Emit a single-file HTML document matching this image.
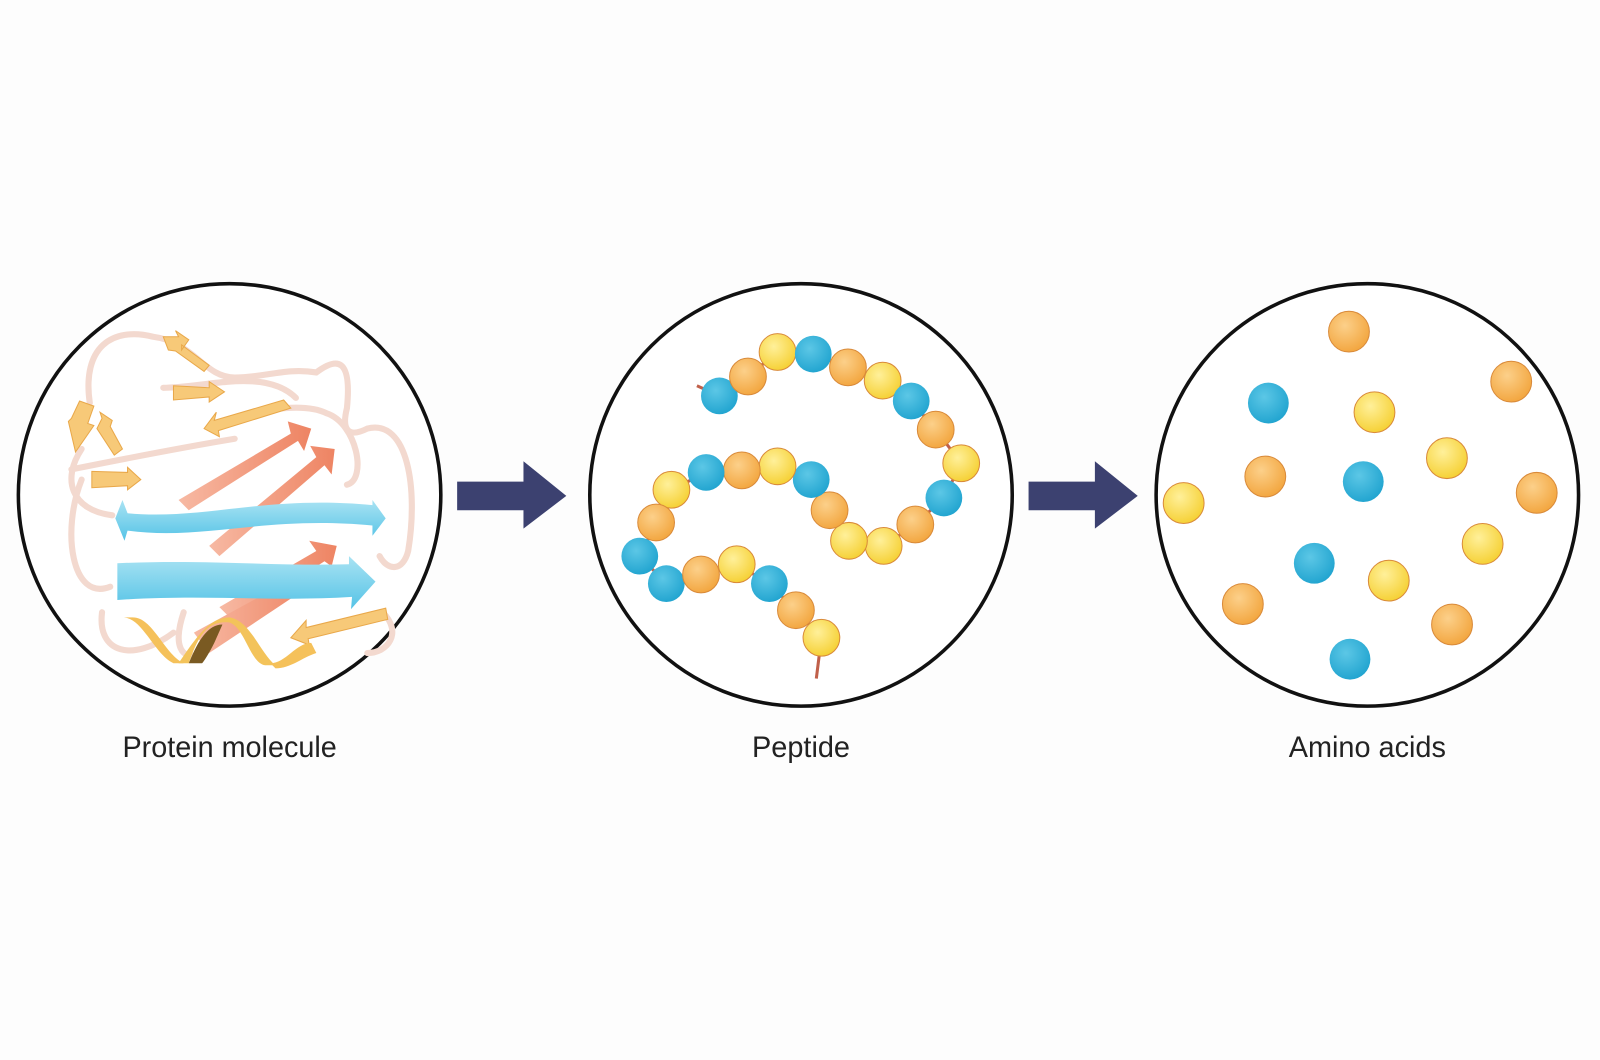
<!DOCTYPE html>
<html><head><meta charset="utf-8"><style>
html,body{margin:0;padding:0;background:#fdfdfd;}
svg{display:block}
</style></head><body>
<svg width="1600" height="1060" viewBox="0 0 1600 1060" xmlns="http://www.w3.org/2000/svg">
<defs>
<radialGradient id="gb" cx="0.4" cy="0.35" r="0.7"><stop offset="0" stop-color="#5cc7e6"/><stop offset="1" stop-color="#1fa3cf"/></radialGradient>
<radialGradient id="go" cx="0.4" cy="0.35" r="0.7"><stop offset="0" stop-color="#fcd08a"/><stop offset="1" stop-color="#f2a43c"/></radialGradient>
<radialGradient id="gy" cx="0.4" cy="0.35" r="0.7"><stop offset="0" stop-color="#fff09a"/><stop offset="1" stop-color="#f5cf30"/></radialGradient>
<linearGradient id="bl" x1="0" y1="0" x2="0" y2="1"><stop offset="0" stop-color="#a9e3f3"/><stop offset="1" stop-color="#55c3e6"/></linearGradient>
<linearGradient id="sa" x1="0" y1="0" x2="1" y2="0"><stop offset="0" stop-color="#f7b9a3"/><stop offset="1" stop-color="#ee8463"/></linearGradient>
</defs>
<rect width="1600" height="1060" fill="#fdfdfd"/>
<g transform="scale(1.0204)">
<!-- circles -->
<circle cx="225" cy="485" r="207" fill="#fff" stroke="#111" stroke-width="3.5"/>
<circle cx="785" cy="485" r="207" fill="#fff" stroke="#111" stroke-width="3.5"/>
<circle cx="1340" cy="485" r="207" fill="#fff" stroke="#111" stroke-width="3.5"/>

<!-- arrows -->
<polygon points="448,472 513,472 513,452 555,486 513,518 513,500 448,500" fill="#3c4170"/>
<polygon points="1008,472 1073,472 1073,452 1115,486 1073,518 1073,500 1008,500" fill="#3c4170"/>

<!-- protein -->
<g fill="none" stroke="#f3d9cf" stroke-width="6" stroke-linecap="round">
<path d="M88,395 C80,340 110,320 150,330 C190,335 200,370 230,370 C260,370 280,360 310,365 C330,350 345,350 340,400 C335,420 340,430 360,420 C400,410 410,480 400,540 C395,560 380,560 372,545"/>
<path d="M80,440 C60,470 70,500 110,505"/>
<path d="M80,470 C60,520 70,590 108,575"/>
<path d="M100,600 C95,640 130,650 170,620"/>
<path d="M230,410 C260,400 300,395 320,405 C350,415 360,470 340,475"/>
<path d="M70,460 C120,450 170,440 230,430"/>
<path d="M290,390 C260,360 200,380 160,380"/>
<path d="M375,600 C395,620 380,640 360,640"/>
<path d="M180,600 C170,630 175,650 200,640"/>
</g>
<g fill="url(#sa)">
<polygon points="175,490 285,425 282,413 305,420 298,442 292,432 185,500"/>
<polygon points="205,535 310,448 304,437 328,440 325,465 318,456 215,545"/>
<polygon points="215,595 310,540 303,530 330,535 325,555 318,550 228,608"/>
<polygon points="190,620 300,560 310,570 205,640"/>
</g>
<path d="M125,503 L120,490 L113,508 L122,530 L125,520 C200,530 260,505 365,515 L365,525 L378,508 L365,490 L365,495 C260,485 200,510 125,503Z" fill="url(#bl)"/>
<path d="M115,552 L115,588 C200,582 270,590 345,585 L344,597 L368,570 L342,545 L342,553 C270,555 200,548 115,552Z" fill="url(#bl)"/>
<g fill="#f7c978" stroke="#e9a84a" stroke-width="1">
<polygon points="160,330 175,330 172,324 185,333 178,343 178,338 205,358 200,364 172,344 165,343"/>
<polygon points="170,378 205,380 205,374 220,384 205,394 205,389 170,392"/>
<polygon points="70,410 78,393 92,398 86,415 92,417 74,443 67,413"/>
<polygon points="95,420 100,410 98,404 110,412 108,418 120,440 112,446"/>
<polygon points="90,462 125,463 125,458 138,470 125,480 125,476 90,478"/>
<polygon points="278,392 210,412 212,404 200,420 215,428 214,422 285,400"/>
<polygon points="378,596 300,615 300,608 285,625 303,632 302,626 380,607"/>
</g>
<path d="M120,605 C140,605 150,640 170,650 L180,650 C160,640 150,605 130,605Z" fill="#f5c15a"/>
<path d="M185,650 C195,620 205,608 225,610 C240,615 245,650 260,652 L270,652 C255,640 245,608 225,605 C205,605 192,625 175,650Z" fill="#f3c35a"/>
<path d="M185,650 C195,625 205,612 218,612 L210,630 C205,640 200,648 198,650Z" fill="#7a5a22"/>
<path d="M265,650 C280,650 290,630 305,630 L310,640 C295,645 285,655 270,655Z" fill="#f5c15a"/>

<!-- peptide -->
<path d="M683,378 L705,388 733,369 762,345 797,347 831,360 865,373 893,393 917,421 942,454 925,488 897,514 866,535 832,530 813,500 795,470 762,457 727,461 692,463 658,480 643,512 627,545 653,572 687,563 722,553 754,572 780,598 805,625 800,665" fill="none" stroke="#c0604a" stroke-width="3"/>
<g stroke="#d98a3a" stroke-width="1">
<circle cx="705" cy="388" r="18" fill="url(#gb)" stroke="none"/>
<circle cx="733" cy="369" r="18" fill="url(#go)"/>
<circle cx="762" cy="345" r="18" fill="url(#gy)"/>
<circle cx="797" cy="347" r="18" fill="url(#gb)" stroke="none"/>
<circle cx="831" cy="360" r="18" fill="url(#go)"/>
<circle cx="865" cy="373" r="18" fill="url(#gy)"/>
<circle cx="893" cy="393" r="18" fill="url(#gb)" stroke="none"/>
<circle cx="917" cy="421" r="18" fill="url(#go)"/>
<circle cx="942" cy="454" r="18" fill="url(#gy)"/>
<circle cx="925" cy="488" r="18" fill="url(#gb)" stroke="none"/>
<circle cx="897" cy="514" r="18" fill="url(#go)"/>
<circle cx="866" cy="535" r="18" fill="url(#gy)"/>
<circle cx="832" cy="530" r="18" fill="url(#gy)"/>
<circle cx="813" cy="500" r="18" fill="url(#go)"/>
<circle cx="795" cy="470" r="18" fill="url(#gb)" stroke="none"/>
<circle cx="762" cy="457" r="18" fill="url(#gy)"/>
<circle cx="727" cy="461" r="18" fill="url(#go)"/>
<circle cx="692" cy="463" r="18" fill="url(#gb)" stroke="none"/>
<circle cx="658" cy="480" r="18" fill="url(#gy)"/>
<circle cx="643" cy="512" r="18" fill="url(#go)"/>
<circle cx="627" cy="545" r="18" fill="url(#gb)" stroke="none"/>
<circle cx="653" cy="572" r="18" fill="url(#gb)" stroke="none"/>
<circle cx="687" cy="563" r="18" fill="url(#go)"/>
<circle cx="722" cy="553" r="18" fill="url(#gy)"/>
<circle cx="754" cy="572" r="18" fill="url(#gb)" stroke="none"/>
<circle cx="780" cy="598" r="18" fill="url(#go)"/>
<circle cx="805" cy="625" r="18" fill="url(#gy)"/>
</g>

<!-- amino acids -->
<g stroke="#d98a3a" stroke-width="1">
<circle cx="1322" cy="325" r="20" fill="url(#go)"/>
<circle cx="1481" cy="374" r="20" fill="url(#go)"/>
<circle cx="1243" cy="395" r="20" fill="url(#gb)" stroke="none"/>
<circle cx="1347" cy="404" r="20" fill="url(#gy)"/>
<circle cx="1418" cy="449" r="20" fill="url(#gy)"/>
<circle cx="1240" cy="467" r="20" fill="url(#go)"/>
<circle cx="1336" cy="472" r="20" fill="url(#gb)" stroke="none"/>
<circle cx="1160" cy="493" r="20" fill="url(#gy)"/>
<circle cx="1506" cy="483" r="20" fill="url(#go)"/>
<circle cx="1453" cy="533" r="20" fill="url(#gy)"/>
<circle cx="1288" cy="552" r="20" fill="url(#gb)" stroke="none"/>
<circle cx="1361" cy="569" r="20" fill="url(#gy)"/>
<circle cx="1218" cy="592" r="20" fill="url(#go)"/>
<circle cx="1423" cy="612" r="20" fill="url(#go)"/>
<circle cx="1323" cy="646" r="20" fill="url(#gb)" stroke="none"/>
</g>

<!-- labels -->
<g font-family="Liberation Sans, sans-serif" font-size="29" fill="#222" text-anchor="middle">
<text x="225" y="742" textLength="210" lengthAdjust="spacingAndGlyphs">Protein molecule</text>
<text x="785" y="742" textLength="96" lengthAdjust="spacingAndGlyphs">Peptide</text>
<text x="1340" y="742" textLength="154" lengthAdjust="spacingAndGlyphs">Amino acids</text>
</g>
</g>
</svg>
</body></html>
